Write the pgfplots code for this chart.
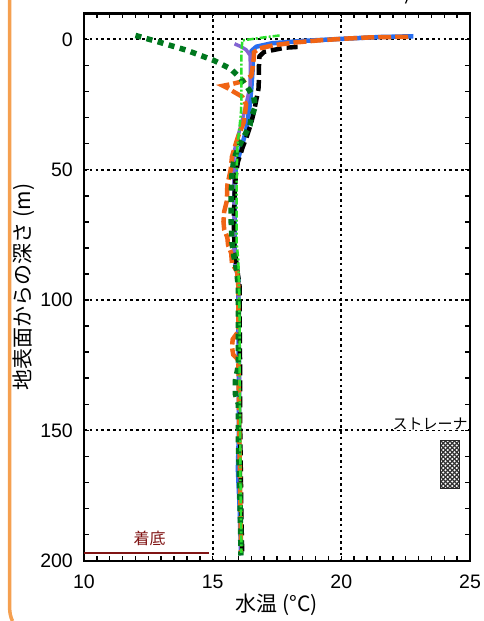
\documentclass[border=0pt]{standalone}
\usepackage{pgfplots}
\pgfplotsset{compat=1.18}
\usepackage{fontspec}
\setmainfont{Liberation Sans}
\newfontfamily\jp{Noto Sans CJK JP}
\usetikzlibrary{patterns}
\definecolor{blueL}{RGB}{40,110,240}
\definecolor{orangeL}{RGB}{240,100,20}
\definecolor{dgreen}{RGB}{0,120,30}
\definecolor{bgreen}{RGB}{45,225,45}
\definecolor{purpleL}{RGB}{130,100,210}
\definecolor{dred}{RGB}{128,20,20}
\definecolor{frameorange}{RGB}{245,160,80}
\pgfdeclarepatternformonly{bigcrosshatch}{\pgfqpoint{-1pt}{-1pt}}{\pgfqpoint{5.5pt}{5.5pt}}{\pgfqpoint{4.5pt}{4.5pt}}{%
 \pgfsetlinewidth{1.3pt}%
 \pgfpathmoveto{\pgfqpoint{-0.1pt}{-0.1pt}}\pgfpathlineto{\pgfqpoint{4.6pt}{4.6pt}}%
 \pgfpathmoveto{\pgfqpoint{-0.1pt}{4.6pt}}\pgfpathlineto{\pgfqpoint{4.6pt}{-0.1pt}}%
 \pgfusepath{stroke}}
\begin{document}
\begin{tikzpicture}[x=1pt,y=1pt]
\path[use as bounding box] (0,0) rectangle (484,621);
\begin{axis}[
 at={(84pt,60.3pt)}, anchor=south west, scale only axis, width=386pt, height=547.4pt,
 xmin=10, xmax=25, ymin=-10, ymax=200, y dir=reverse,
 xtick={10,15,20,25}, ytick={0,50,100,150,200},
 minor x tick num=9, minor y tick num=4,
 tick align=inside, major tick length=5pt, minor tick length=5pt,
 every tick/.style={black, line width=1.5pt},
 axis line style={line width=2.4pt},
 grid=major, major grid style={black, line width=2pt, dash pattern=on 2.6pt off 3.2pt},
 tick label style={font=\fontsize{19.5}{20}\selectfont},
 /pgf/number format/assume math mode=true,
 yticklabel style={inner sep=0pt, xshift=-11pt},
 xticklabel style={inner sep=0pt, yshift=-14pt},
 xlabel={\jp 水温 (°C)}, ylabel={\jp 地表面からの深さ (m)},
 label style={font=\fontsize{21}{22}\selectfont},
 xlabel style={at={(axis description cs:0.5,-0.081)}, anchor=center},
 ylabel style={at={(axis description cs:-0.155,0.5)}, anchor=center},
 clip=false,
]
% blue
\addplot[blueL, line width=4.5pt, line join=round] coordinates {
(22.8,-1.2)(21.5,-0.9)(20,-0.2)(18.5,0.6)(17.3,1.5)(16.7,2.8)(16.5,4.5)(16.55,8)(16.55,12)(16.5,19)(16.42,27)(16.3,35)(16.1,42)(15.95,47)(15.85,53)(15.85,60)(15.85,70)(15.85,80)(15.9,87)(16.0,92)(16.0,110)(16.02,130)(16.02,150)(15.98,165)(16.05,180)(16.08,190)(16.1,197)};
% purple
\addplot[purpleL, line width=3.5pt, line join=round] coordinates {
(15.85,1.7)(16.1,2.8)(16.3,4)(16.45,6)(16.47,10.6)(16.45,18.3)(16.33,23.5)(16.2,29)(16.08,33.6)(15.96,38)(15.88,41)(15.83,44)(15.82,50)(15.83,60)(15.83,70)(15.83,80)(15.88,87)(16.0,92)(16.02,110)(16.05,130)(16.05,150)(16.05,170)(16.1,185)(16.1,198)};
% black
\addplot[black, line width=4.5pt, dash pattern=on 11pt off 5pt] coordinates {
(18.3,2.9)(17.8,3.2)(17.3,4.2)(17.0,4.8)(16.82,6.5)(16.8,10)(16.8,15)(16.78,19)(16.68,24)(16.6,28)(16.47,33)(16.3,38)(16.18,41)(15.98,47)(15.9,52)(15.85,60)(15.82,70)(15.85,80)(15.95,88)(16.05,95)(16.05,110)(16.07,130)(16.07,150)(16.1,170)(16.12,185)(16.15,198)};
% orange
\addplot[orangeL, line width=4.5pt, dash pattern=on 13pt off 4pt] coordinates {
(22.6,-1)(21.2,-0.8)(20.2,-0.3)(19.1,0.4)(18.2,1.2)(17.4,2.2)(16.8,3.5)(16.6,5)(16.6,7)(16.55,11)(16.5,14)(16.2,16)(15.8,17)(15.4,17.8)(15.6,18.8)(15.85,20.3)(16.15,22)(16.3,25)(16.25,29)(16.2,32)(16.0,37)(15.9,40)(15.75,45)(15.7,50)(15.57,56)(15.55,62)(15.45,66)(15.42,70)(15.45,73)(15.57,76)(15.6,79)(15.72,82)(15.75,86)(15.95,89)(16.0,95)(16.0,112)(15.78,115)(15.75,118)(15.8,121)(16.0,123)(16.02,140)(16.05,160)(16.08,180)(16.1,197)};
% dark green
\addplot[dgreen, line width=5.5pt, dash pattern=on 6pt off 5.5pt] coordinates {
(12.0,-1.5)(12.9,1.0)(14.0,4.2)(15.05,8.1)(15.7,11.3)(16.1,15.2)(16.35,18.4)(16.6,22.2)(16.65,26)(16.5,30)(16.45,33)(16.15,38.5)(15.98,42)(15.82,46)(15.75,52)(15.72,60)(15.72,70)(15.75,78)(15.82,83)(15.92,88)(16.0,95)(16.0,110)(16.0,125)(15.88,131)(15.88,136)(16.0,140)(16.0,155)(16.05,170)(16.08,185)(16.1,198)};
% bright green
\addplot[bgreen, line width=2.5pt, dash pattern=on 7pt off 2pt on 2pt off 2pt] coordinates {
(17.6,-1.5)(16.95,-0.7)(16.15,0.4)(16.12,5)(16.12,12)(16.12,19)(16.12,23)(16.1,28)(16.05,33)(15.97,40)(15.95,45)(15.93,55)(15.93,65)(15.93,78)(16.0,85)(16.02,95)(16.05,110)(16.05,130)(16.07,150)(16.08,170)(16.1,185)(16.12,197)};
% bottom reached
\addplot[dred, line width=2pt] coordinates {(10,197.2)(14.86,197.2)};
\node[text=dred, font=\jp\fontsize{16}{16}\selectfont] at (axis cs:12.55,191.3) {着底};
% strainer
\addplot[draw=black!85, line width=0.9pt, fill=white, postaction={pattern=bigcrosshatch, pattern color=black!80}] coordinates {(23.85,154)(24.6,154)(24.6,172.2)(23.85,172.2)(23.85,154)};
\node[fill=white, inner sep=0pt, anchor=base east, font=\jp\fontsize{15}{15}\selectfont] at (axis cs:24.92,149.8) {ストレーナ};
\end{axis}
\draw[frameorange, line width=3.5pt] (9.5,621) -- (9.5,18) .. controls (9.5,8) and (10.5,4) .. (12.5,0);
\draw[line width=1.2pt] (407,621) -- (405.5,617.5);
\end{tikzpicture}
\end{document}
